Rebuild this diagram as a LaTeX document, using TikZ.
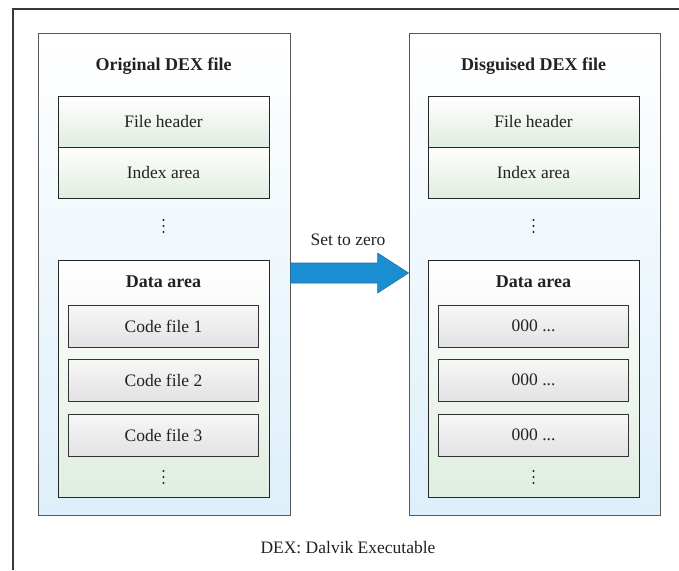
\documentclass[tikz,border=0pt]{standalone}
\usepackage{fontspec}
\setmainfont{Liberation Serif}
\usetikzlibrary{calc}
\definecolor{framegray}{HTML}{3A3A3A}
\definecolor{boxblue}{HTML}{DDEFFA}
\definecolor{boxgreen}{HTML}{E0EDE0}
\definecolor{boxgray}{HTML}{E2E2E5}
\definecolor{arrowblue}{HTML}{1A8ED3}
\definecolor{arrowedge}{HTML}{2A6C98}
\definecolor{txt}{HTML}{222222}
\tikzset{
  filebox/.style={draw=black!65, line width=0.9pt, top color=white, bottom color=boxblue,
    minimum width=252pt, minimum height=482pt, inner sep=0pt},
  areabox/.style={draw=black!85, line width=0.9pt, top color=white, bottom color=boxgreen,
    minimum width=211pt, inner sep=0pt},
  codebox/.style={draw=black!80, line width=0.9pt, top color=white!97!black, bottom color=boxgray,
    minimum width=190pt, minimum height=42pt, inner sep=0pt, font=\fontsize{17.5}{19}\selectfont, text=txt},
  plaintext/.style={font=\fontsize{17.5}{19}\selectfont, text=txt, inner sep=0pt},
  heading/.style={font=\fontsize{18}{20}\selectfont\bfseries, text=txt, inner sep=0pt},
  dotmark/.style={fill=txt, draw=none},
}
% vertical ellipsis made of three small dots
\newcommand{\vdotsat}[1]{%
  \foreach \dy in {-6,0,6} {\fill[txt] ($(#1)+(0,\dy)$) circle (1.1pt);}}
\begin{document}
\begin{tikzpicture}[x=1pt,y=-1pt]
\useasboundingbox (0,0) rectangle (679,570);
% partial page frame
\draw[framegray, line width=1.3pt] (13,570) -- (13,9) -- (679,9);

% ---------- original file ----------
\node[filebox] (orig) at (164,274) {};
\node[heading] (origt) at (163.5,66) {Original DEX file};
\node[areabox, minimum height=51pt, plaintext] (ohead) at (163.5,121.5) {File header};
\node[areabox, minimum height=51pt, plaintext] (oidx) at (163.5,172.5) {Index area};
\coordinate (odots) at (163.5,226);
\node[areabox, minimum height=237pt] (odata) at (163.5,378.5) {};
\node[heading] (odatat) at (163.5,282) {Data area};
\node[codebox] (oc1) at (163.5,326) {Code file 1};
\node[codebox] (oc2) at (163.5,380) {Code file 2};
\node[codebox] (oc3) at (163.5,435) {Code file 3};
\coordinate (odots2) at (163.5,477);
\vdotsat{odots}
\vdotsat{odots2}

% ---------- disguised file ----------
\node[filebox, minimum width=251pt] (disg) at (534.5,274) {};
\node[heading] (disgt) at (533.5,66) {Disguised DEX file};
\node[areabox, minimum height=51pt, plaintext] (dhead) at (533.5,121.5) {File header};
\node[areabox, minimum height=51pt, plaintext] (didx) at (533.5,172.5) {Index area};
\coordinate (ddots) at (533.5,226);
\node[areabox, minimum height=237pt] (ddata) at (533.5,378.5) {};
\node[heading] (ddatat) at (533.5,282) {Data area};
\node[codebox] (dc1) at (533.5,326) {000 ...};
\node[codebox] (dc2) at (533.5,380) {000 ...};
\node[codebox] (dc3) at (533.5,435) {000 ...};
\coordinate (ddots2) at (533.5,477);
\vdotsat{ddots}
\vdotsat{ddots2}

% ---------- block arrow between the two files ----------
\coordinate (as) at (orig.east |- 0,273);
\coordinate (at) at (disg.west |- 0,273);
\draw[fill=arrowblue, draw=arrowedge, line width=0.6pt, line join=miter]
  ($(as)+(0,-10)$) -- ($(at)+(-31,-10)$) -- ($(at)+(-31,-20)$) -- (at)
  -- ($(at)+(-31,20)$) -- ($(at)+(-31,10)$) -- ($(as)+(0,10)$) -- cycle;
\node[plaintext] (setz) at (348,240) {Set to zero};

% ---------- note ----------
\node[plaintext] (note) at (348,548) {DEX: Dalvik Executable};
\end{tikzpicture}
\end{document}
